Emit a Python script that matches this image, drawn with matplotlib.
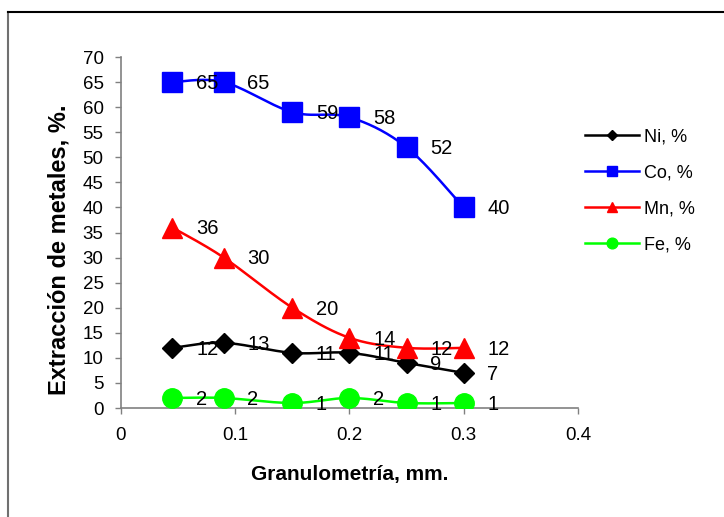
import numpy as np
import matplotlib.pyplot as plt
from matplotlib.lines import Line2D

plt.rcParams['font.family'] = ['Liberation Sans', 'DejaVu Sans']

# Granulometría (mm) y extracción de cada metal (%)
granulometria = [0.045, 0.09, 0.15, 0.2, 0.25, 0.3]
ni = [12, 13, 11, 11, 9, 7]
co = [65, 65, 59, 58, 52, 40]
mn = [36, 30, 20, 14, 12, 12]
fe = [2, 2, 1, 2, 1, 1]

series = [
    ('Ni, %', ni, 'black', 'D', 10),
    ('Co, %', co, '#0000FF', 's', 14),
    ('Mn, %', mn, '#FF0000', '^', 14),
    ('Fe, %', fe, '#00FF00', 'o', 14),
]


# Curva suavizada tipo Excel (Bezier con tangentes de Catmull-Rom)
def suavizar(x, y, pasos=30):
    x = np.asarray(x, float)
    y = np.asarray(y, float)
    n = len(x)
    xs, ys = [], []
    for i in range(n - 1):
        p0 = np.array([x[max(i - 1, 0)], y[max(i - 1, 0)]])
        p1 = np.array([x[i], y[i]])
        p2 = np.array([x[i + 1], y[i + 1]])
        p3 = np.array([x[min(i + 2, n - 1)], y[min(i + 2, n - 1)]])
        c1 = p1 + (p2 - p0) / 6
        c2 = p2 - (p3 - p1) / 6
        t = np.linspace(0, 1, pasos)[:, None]
        pts = ((1 - t) ** 3) * p1 + 3 * ((1 - t) ** 2) * t * c1 + 3 * (1 - t) * t ** 2 * c2 + t ** 3 * p2
        xs.extend(pts[:, 0])
        ys.extend(pts[:, 1])
    return xs, ys


fig = plt.figure(figsize=(7.24, 5.17), dpi=100)
ax = fig.add_axes([0.1671, 0.2108, 0.6312, 0.6789])

handles = []
for nombre, valores, color, marcador, tam in series:
    sx, sy = suavizar(granulometria, valores)
    ax.plot(sx, sy, color=color, lw=1.8, zorder=2)
    ax.plot(granulometria, valores, linestyle='none', marker=marcador, markersize=tam,
            color=color, zorder=3)
    for xv, yv in zip(granulometria, valores):
        ax.annotate(str(yv), (xv, yv), xytext=(17, -1), textcoords='offset points',
                    ha='left', va='center', fontsize=14.5, zorder=4)
    handles.append(Line2D([], [], color=color, lw=1.8, marker=marcador,
                          markersize=tam * 0.55, label=nombre))

ax.set_xlim(0, 0.4)
ax.set_ylim(0, 70)
ax.set_xticks([0, 0.1, 0.2, 0.3, 0.4])
ax.set_xticklabels(['0', '0.1', '0.2', '0.3', '0.4'])
ax.set_yticks(range(0, 71, 5))
ax.tick_params(axis='both', labelsize=13.5, direction='out', length=4.5, width=1,
               color='#808080')
ax.tick_params(axis='y', pad=8)
ax.tick_params(axis='x', pad=9)

for lado in ['top', 'right']:
    ax.spines[lado].set_visible(False)
for lado in ['left', 'bottom']:
    ax.spines[lado].set_color('#808080')
    ax.spines[lado].set_linewidth(1.2)

ax.set_xlabel('Granulometría, mm.', fontsize=15, fontweight='bold', labelpad=15)
ax.set_ylabel('Extracción de metales, %.', fontsize=17, fontweight='bold')
ax.yaxis.set_label_coords(-0.111, 0.45)

fig.legend(handles=handles, loc='upper left', bbox_to_anchor=(0.785, 0.783),
           frameon=False, fontsize=13, handlelength=3.0, handletextpad=0.3,
           labelspacing=1.05)

# Marco del área del gráfico
fig.add_artist(Line2D([8 / 724, 8 / 724], [0, 1 - 12 / 517], transform=fig.transFigure,
                      color='#707070', lw=1.5))
fig.add_artist(Line2D([8 / 724, 1], [1 - 12 / 517, 1 - 12 / 517], transform=fig.transFigure,
                      color='black', lw=1.5))

fig.savefig('out.png', dpi=100)
